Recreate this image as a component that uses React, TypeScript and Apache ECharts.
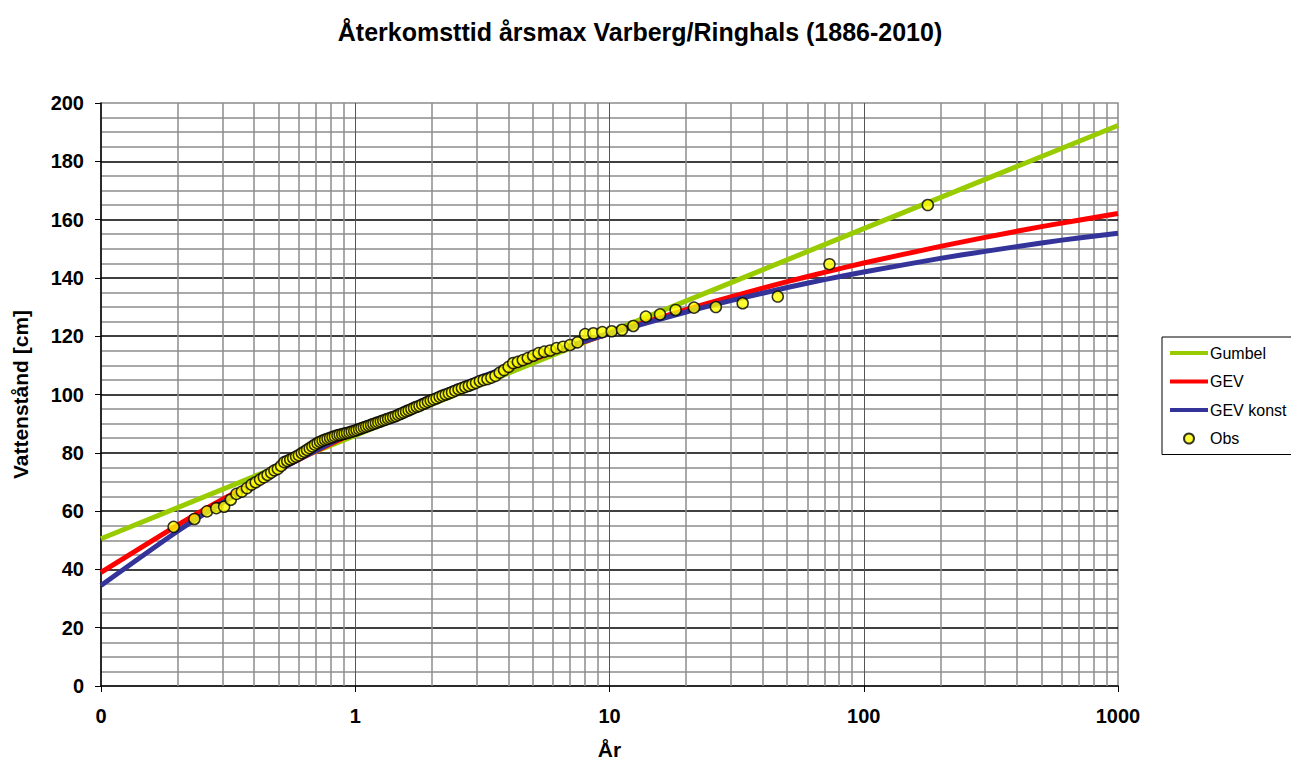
import React, { useEffect, useRef } from "react";
import * as echarts from "echarts";

const FONT = "'Liberation Sans', Arial, Helvetica, sans-serif";

const titleText = "Återkomsttid årsmax Varberg/Ringhals (1886-2010)";
const xAxisName = "År";
const yAxisName = "Vattenstånd [cm]";
const seriesNames = ["Gumbel", "GEV", "GEV konst", "Obs"];

// Model curves (return period in years, water level in cm)
const gumbelYears = [0.1, 1, 10, 100, 1000];
const gumbelLevels = [50.5, 86.0, 121.4, 156.9, 192.3];

const curveYears = [0.1, 0.2, 0.3, 0.5, 0.7, 1, 2, 3, 5, 7, 10, 20, 30, 50, 70, 100, 200, 300, 500, 700, 1000];
const gevLevels = [39.0, 55.2, 64.0, 74.2, 80.6, 87.0, 98.5, 104.7, 112.0, 116.5, 121.0, 129.1, 133.5, 138.7, 141.9, 145.1, 150.8, 153.9, 157.6, 159.8, 162.1];
const gevKonstLevels = [34.5, 53.1, 62.8, 74.0, 80.8, 87.5, 99.2, 105.4, 112.4, 116.7, 120.9, 128.3, 132.2, 136.7, 139.4, 142.0, 146.7, 149.1, 152.0, 153.7, 155.3];

// Observations
const obsYears = [
  0.193, 0.233, 0.261, 0.284, 0.305, 0.324, 0.341, 0.358, 0.375, 0.391,
  0.406, 0.422, 0.437, 0.452, 0.467, 0.481, 0.496, 0.511, 0.526, 0.540,
  0.555, 0.570, 0.585, 0.600, 0.616, 0.631, 0.646, 0.662, 0.678, 0.694,
  0.711, 0.727, 0.744, 0.761, 0.778, 0.796, 0.814, 0.832, 0.851, 0.869,
  0.889, 0.908, 0.928, 0.949, 0.969, 0.991, 1.012, 1.035, 1.057, 1.081,
  1.104, 1.129, 1.154, 1.179, 1.205, 1.232, 1.260, 1.288, 1.317, 1.347,
  1.378, 1.410, 1.443, 1.476, 1.511, 1.547, 1.584, 1.622, 1.662, 1.703,
  1.745, 1.789, 1.834, 1.882, 1.931, 1.981, 2.034, 2.089, 2.147, 2.206,
  2.269, 2.334, 2.402, 2.474, 2.549, 2.627, 2.710, 2.797, 2.888, 2.985,
  3.09, 3.20, 3.31, 3.43, 3.56, 3.70, 3.85, 4.01, 4.18, 4.36,
  4.56, 4.77, 5.01, 5.26, 5.54, 5.85, 6.19, 6.57, 7.00, 7.48,
  8.02, 8.64, 9.37, 10.2, 11.2, 12.4, 13.9, 15.8, 18.2, 21.5,
  26.2, 33.4, 45.9, 73.3, 178.6,
];
const obsLevels = [
  54.6, 57.3, 59.9, 61.0, 61.5, 63.9, 65.9, 66.7, 67.9, 69.1,
  69.9, 70.8, 71.6, 72.4, 73.2, 74.0, 74.5, 75.5, 76.8, 77.2,
  77.7, 78.2, 78.7, 79.2, 79.9, 80.4, 81.0, 81.6, 82.2, 82.8,
  83.3, 83.8, 84.2, 84.5, 84.8, 85.1, 85.4, 85.7, 86.0, 86.2,
  86.4, 86.6, 86.8, 87.0, 87.3, 87.5, 87.8, 88.1, 88.4, 88.7,
  89.0, 89.3, 89.6, 89.9, 90.2, 90.5, 90.8, 91.1, 91.4, 91.7,
  92.0, 92.3, 92.6, 93.0, 93.4, 93.8, 94.2, 94.6, 95.0, 95.4,
  95.8, 96.1, 96.6, 97.0, 97.5, 97.9, 98.3, 98.7, 99.2, 99.6,
  100.0, 100.4, 100.8, 101.3, 101.8, 102.2, 102.6, 103.0, 103.5, 104.0,
  104.6, 105.0, 105.3, 105.8, 106.4, 107.5, 108.4, 109.5, 110.8, 111.2,
  111.8, 112.5, 113.3, 114.2, 114.7, 115.1, 115.9, 116.4, 117.0, 117.9,
  120.7, 121.0, 121.4, 121.7, 122.2, 123.5, 126.7, 127.5, 129.0, 129.8,
  130.0, 131.3, 133.6, 144.7, 165.0,
];

// Minor log gridline positions on the x axis
const minorXTicks = [
  0.2, 0.3, 0.4, 0.5, 0.6, 0.7, 0.8, 0.9,
  2, 3, 4, 5, 6, 7, 8, 9,
  20, 30, 40, 50, 60, 70, 80, 90,
  200, 300, 400, 500, 600, 700, 800, 900,
];

const zip = (xs: number[], ys: number[]) => xs.map((x, i) => [x, ys[i]]);

const LINE_ICON = "path://M0 0H38V4H0Z";

export default function App() {
  const ref = useRef<HTMLDivElement>(null);

  useEffect(() => {
    document.body.style.margin = "0";
    if (!ref.current) return;
    const chart = echarts.init(ref.current, null, { renderer: "svg" });
    const option: any = {
      animation: false,
      backgroundColor: "#ffffff",
      title: {
        text: titleText,
        left: 635,
        top: 14,
        textAlign: "center",
        textStyle: { fontSize: 25, fontWeight: "bold", color: "#000", fontFamily: FONT },
      },
      grid: {
        left: 101,
        top: 103,
        width: 1017,
        height: 583,
        containLabel: false,
        outerBoundsMode: "none",
        show: true,
        borderColor: "#8c8c8c",
        borderWidth: 1.5,
        backgroundColor: "transparent",
      },
      legend: {
        data: [
          { name: seriesNames[0], icon: LINE_ICON },
          { name: seriesNames[1], icon: LINE_ICON },
          { name: seriesNames[2], icon: LINE_ICON },
          { name: seriesNames[3], icon: "circle" },
        ],
        orient: "vertical",
        left: 1162,
        top: 337,
        padding: [8, 8, 8, 8],
        borderColor: "#000",
        borderWidth: 1,
        borderRadius: 0,
        backgroundColor: "#fff",
        itemWidth: 38,
        itemHeight: 10,
        itemGap: 12.5,
        textStyle: { fontSize: 16, color: "#000", fontFamily: FONT, padding: [0, 0, 0, -3] },
      },
      xAxis: {
        type: "log",
        logBase: 10,
        min: 0.1,
        max: 1000,
        name: xAxisName,
        nameLocation: "middle",
        nameGap: 53,
        nameTextStyle: { fontSize: 21, fontWeight: "bold", color: "#000", fontFamily: FONT },
        axisLine: { show: true, onZero: false, lineStyle: { color: "#000", width: 1.5 } },
        axisTick: { show: true, length: 6, lineStyle: { color: "#000", width: 1 } },
        axisLabel: {
          fontSize: 20,
          fontWeight: "bold",
          color: "#000",
          fontFamily: FONT,
          margin: 20,
          formatter: (v: number) => (v < 1 ? "0" : String(Math.round(v))),
        },
        splitLine: {
          show: true,
          showMinLine: false,
          showMaxLine: false,
          lineStyle: { color: "#555", width: 1 },
        },
      },
      yAxis: {
        type: "value",
        min: 0,
        max: 200,
        interval: 20,
        name: yAxisName,
        nameLocation: "middle",
        nameGap: 70,
        nameRotate: 90,
        nameTextStyle: { fontSize: 21, fontWeight: "bold", color: "#000", fontFamily: FONT },
        axisLine: { show: true, lineStyle: { color: "#000", width: 1.5 } },
        axisTick: { show: true, length: 6, lineStyle: { color: "#000", width: 1 } },
        axisLabel: { fontSize: 20, fontWeight: "bold", color: "#000", fontFamily: FONT, margin: 17 },
        splitLine: {
          show: true,
          showMinLine: false,
          showMaxLine: false,
          lineStyle: { color: "#000", width: 1.5 },
        },
        minorTick: { show: false, splitNumber: 4 },
        minorSplitLine: { show: true, lineStyle: { color: "#8c8c8c", width: 1.5 } },
      },
      series: [
        {
          type: "line",
          name: "__grid",
          data: [],
          z: 1,
          silent: true,
          markLine: {
            z: 1,
            silent: true,
            animation: false,
            symbol: ["none", "none"],
            label: { show: false },
            emphasis: { disabled: true },
            lineStyle: { color: "#8c8c8c", width: 1.5, type: "solid" },
            data: minorXTicks.map((v) => ({ xAxis: v })),
          },
        },
        {
          type: "line",
          name: seriesNames[0],
          data: zip(gumbelYears, gumbelLevels),
          symbol: "none",
          lineStyle: { color: "#99cc00", width: 5 },
          itemStyle: { color: "#99cc00" },
          z: 2,
        },
        {
          type: "line",
          name: seriesNames[1],
          data: zip(curveYears, gevLevels),
          symbol: "none",
          smooth: 0.2,
          lineStyle: { color: "#ff0000", width: 5 },
          itemStyle: { color: "#ff0000" },
          z: 3,
        },
        {
          type: "line",
          name: seriesNames[2],
          data: zip(curveYears, gevKonstLevels),
          symbol: "none",
          smooth: 0.2,
          lineStyle: { color: "#333399", width: 5 },
          itemStyle: { color: "#333399" },
          z: 4,
        },
        {
          type: "scatter",
          name: seriesNames[3],
          data: zip(obsYears, obsLevels),
          symbol: "circle",
          symbolSize: 11,
          itemStyle: { color: "#ffff00", borderColor: "#000", borderWidth: 1.5 },
          z: 5,
        },
      ],
    };
    chart.setOption(option);
    return () => chart.dispose();
  }, []);

  return (
    <div
      ref={ref}
      style={{ position: "absolute", left: 0, top: 0, width: 1291, height: 763 }}
    />
  );
}
